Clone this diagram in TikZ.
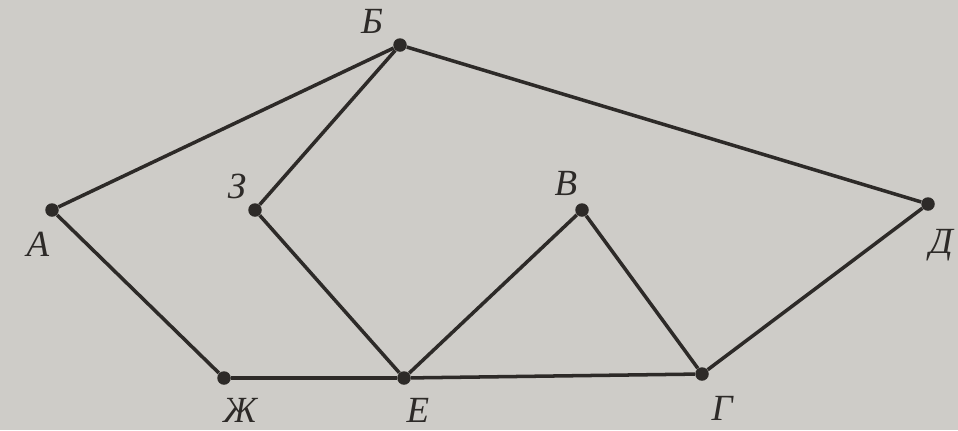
\documentclass[tikz,border=0pt]{standalone}
\usepackage{fontspec}
\setmainfont{Liberation Serif}
\usepackage{xcolor}
\usetikzlibrary{positioning}
\definecolor{paper}{RGB}{206,204,200}
\definecolor{ink}{RGB}{45,42,40}
\begin{document}
\begin{tikzpicture}[
  x=0.2mm, y=-0.2mm,
  pt/.style={circle, fill=ink, inner sep=0pt, minimum size=2.7mm},
  edge/.style={draw=ink, line width=2pt},
  lab/.style={inner sep=0pt, text=ink, font=\fontsize{21}{21}\selectfont\itshape}]
\fill[paper] (0,0) rectangle (958,430);
\useasboundingbox (0,0) rectangle (958,430);
\node[pt] (A) at (52,210) {};
\node[pt] (B) at (400,45) {};
\node[pt] (Z) at (255,210) {};
\node[pt] (V) at (582,210) {};
\node[pt] (D) at (928,204) {};
\node[pt] (Zh) at (224,378) {};
\node[pt] (E) at (404,378) {};
\node[pt] (G) at (702,374) {};
\draw[edge] (A) -- (B);
\draw[edge] (B) -- (Z);
\draw[edge] (B) -- (D);
\draw[edge] (A) -- (Zh);
\draw[edge] (Zh) -- (E);
\draw[edge] (E) -- (G);
\draw[edge] (Z) -- (E);
\draw[edge] (E) -- (V);
\draw[edge] (V) -- (G);
\draw[edge] (G) -- (D);
\node[lab, below=2.9mm of A, xshift=-2.8mm] {А};
\node[lab, above=0.9mm of B, xshift=-5.6mm] {Б};
\node[lab, above=0.7mm of Z, xshift=-3.6mm] {З};
\node[lab, above=1.3mm of V, xshift=-3.2mm] {В};
\node[lab, below=3.5mm of D, xshift=2.6mm] {Д};
\node[lab, below=2.5mm of Zh, xshift=3.2mm] {Ж};
\node[lab, below=2.5mm of E, xshift=2.8mm] {Е};
\node[lab, below=3.0mm of G, xshift=4mm] {Г};
\end{tikzpicture}
\end{document}
